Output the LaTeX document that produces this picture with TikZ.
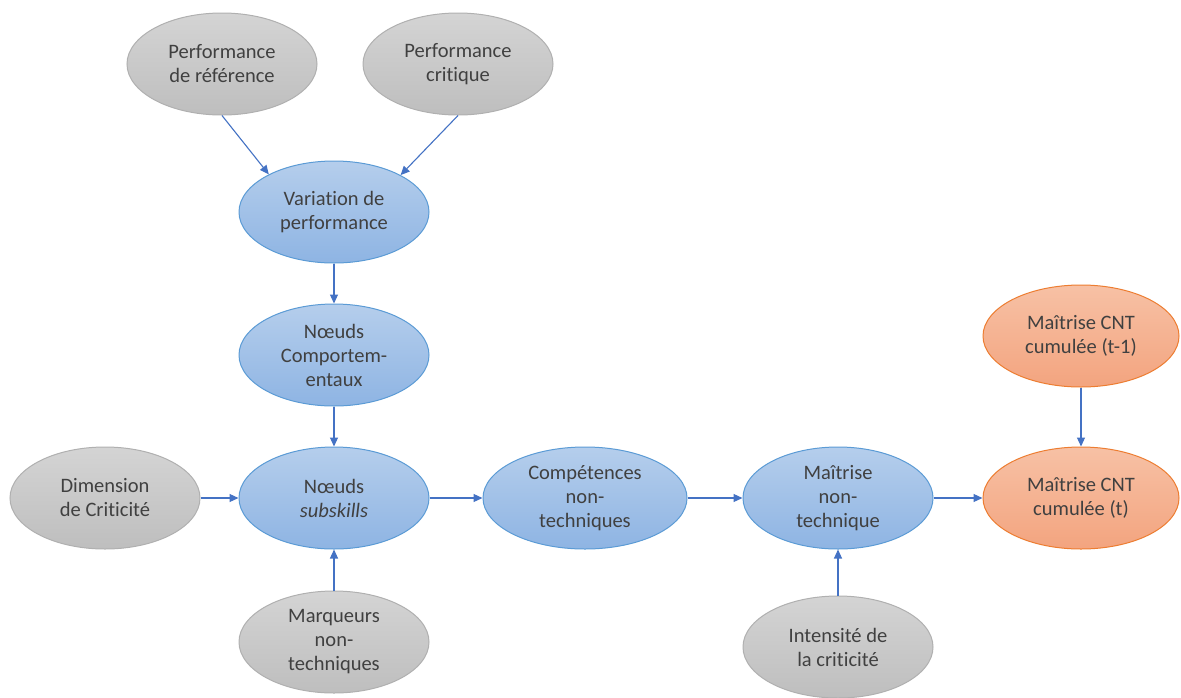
\documentclass[tikz,border=0pt]{standalone}
\usepackage{fontspec}
\setmainfont{Carlito}[Ligatures=NoCommon]
\usetikzlibrary{shapes.geometric, arrows.meta}
\definecolor{txtgray}{HTML}{404040}
\definecolor{graytop}{HTML}{D4D4D4}
\definecolor{graybot}{HTML}{BEBEBE}
\definecolor{grayline}{HTML}{B0B0B0}
\definecolor{bluetop}{HTML}{B5CEEC}
\definecolor{bluebot}{HTML}{8EB4E3}
\definecolor{blueline}{HTML}{5B9BD5}
\definecolor{orangetop}{HTML}{F7C1A5}
\definecolor{orangebot}{HTML}{F3A47F}
\definecolor{orangeline}{HTML}{ED7D31}
\definecolor{arrowblue}{HTML}{4472C4}
\tikzstyle{base} = [ellipse, minimum width=190pt, minimum height=102pt, inner sep=0pt, align=center, text=txtgray, line width=1pt, font=\fontsize{20.5}{24}\selectfont]
\tikzstyle{given} = [base, draw=grayline, top color=graytop, bottom color=graybot]
\tikzstyle{latent} = [base, draw=blueline, top color=bluetop, bottom color=bluebot]
\tikzstyle{mastery} = [base, minimum width=196pt, draw=orangeline, top color=orangetop, bottom color=orangebot]
\tikzstyle{arrow} = [line width=1.1pt, draw=arrowblue, -{Triangle[length=9pt,width=8pt]}]

\begin{document}
\begin{tikzpicture}[x=1pt, y=-1pt, node distance=143pt]

\fill[white] (0,0) rectangle (1181,697);
\useasboundingbox (0,0) rectangle (1181,697);

\node (refPerf) [given] at (222,64) {Performance\\de référence};
\node (critPerf) [given] at (458,64) {Performance\\critique};
\node (variation) [latent] at (334,212) {Variation de\\performance};
\node (comport) [latent, below of=variation] {Nœuds\\Comportem-\\entaux};
\node (subskills) [latent, below of=comport] {Nœuds\\\textit{subskills}};
\node (dimension) [given, left of=subskills, node distance=229pt] {Dimension\\de Criticité};
\node (marqueurs) [given, below of=subskills, node distance=144pt] {Marqueurs\\non-\\techniques};
\node (competences) [latent, minimum width=204pt, right of=subskills, node distance=251pt] {Compétences\\non-\\techniques};
\node (maitrise) [latent, right of=competences, node distance=253pt] {Maîtrise\\non-\\technique};
\node (cumul) [mastery, right of=maitrise, node distance=243pt] {Maîtrise CNT\\cumulée (t)};
\node (cumulPrev) [mastery, above of=cumul, node distance=162pt] {Maîtrise CNT\\cumulée (t-1)};
\node (intensite) [given, below of=maitrise, node distance=149pt] {Intensité de\\la criticité};

\draw [arrow] (refPerf.south) -- (variation.150);
\draw [arrow] (critPerf.south) -- (variation.29);
\draw [arrow] (variation) -- (comport);
\draw [arrow] (comport) -- (subskills);
\draw [arrow] (dimension) -- (subskills);
\draw [arrow] (marqueurs) -- (subskills);
\draw [arrow] (subskills) -- (competences);
\draw [arrow] (competences) -- (maitrise);
\draw [arrow] (maitrise) -- (cumul);
\draw [arrow] (intensite) -- (maitrise);
\draw [arrow] (cumulPrev) -- (cumul);

\end{tikzpicture}
\end{document}
